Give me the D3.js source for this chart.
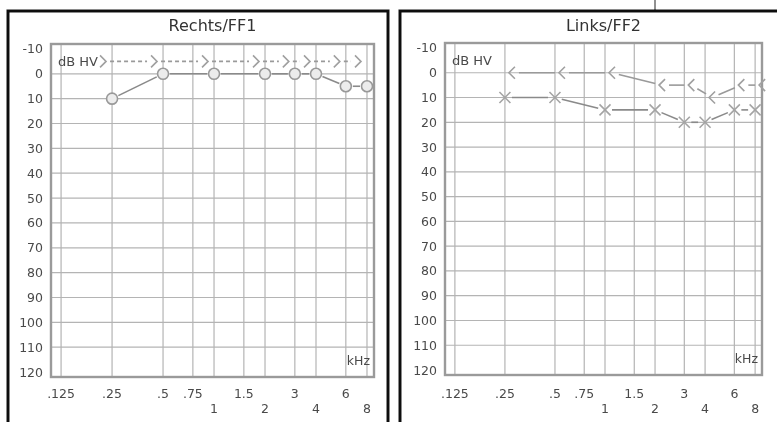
<!DOCTYPE html>
<html>
<head>
<meta charset="utf-8">
<script src="https://cdn.jsdelivr.net/npm/d3@7"></script>
<style>
  body { margin: 0; background: #fff; }
  svg { display: block; }
  text { font-family: "DejaVu Sans", sans-serif; fill: #4a4a4a; }
</style>
</head>
<body>
<div id="chart"></div>
<script>
// frequency axis (kHz)
var freqs = [0.125, 0.25, 0.5, 0.75, 1, 1.5, 2, 3, 4, 6, 8];
var freqLabels = [".125", ".25", ".5", ".75", "1", "1.5", "2", "3", "4", "6", "8"];
var freqLabelRow = [0, 0, 0, 0, 1, 0, 1, 0, 1, 0, 1];
// level axis (dB HV)
var dbTicks = [-10, 0, 10, 20, 30, 40, 50, 60, 70, 80, 90, 100, 110, 120];
var dbGrid = [0, 10, 20, 30, 40, 50, 60, 70, 80, 90, 100, 110];

// measured frequencies
var testFreqs = [0.25, 0.5, 1, 2, 3, 4, 6, 8];
// Rechts/FF1
var rechtsAir = [10, 0, 0, 0, 0, 0, 5, 5];
var rechtsBone = [-5, -5, -5, -5, -5, -5, -5, -5];
// Links/FF2
var linksAir = [10, 10, 15, 15, 20, 20, 15, 15];
var linksBone = [0, 0, 0, 5, 5, 10, 5, 5];

var width = 777, height = 422;

var svg = d3.select("#chart").append("svg")
    .attr("width", width)
    .attr("height", height);

svg.append("defs").append("filter")
    .attr("id", "soft")
  .append("feGaussianBlur")
    .attr("stdDeviation", 0.45);

var root = svg.append("g").attr("filter", "url(#soft)");

// little tick on top of the right frame
root.append("line")
    .attr("x1", 655).attr("x2", 655)
    .attr("y1", 0).attr("y2", 11)
    .attr("stroke", "#222").attr("stroke-width", 1);

var panels = [
  {title: "Rechts/FF1", frame: [8, 11, 388], plot: [51, 44, 374, 377],
   air: rechtsAir, bone: rechtsBone, airMark: "o", boneMark: ">", boneOffset: -9, boneDash: "4,3"},
  {title: "Links/FF2", frame: [400, 11, 790], plot: [445, 43, 762, 375],
   air: linksAir, bone: linksBone, airMark: "x", boneMark: "<", boneOffset: 7, boneDash: null}
];

// draw a connecting line with gaps round the markers
function gapLine(g, pts, gap, dash, color) {
  for (var i = 0; i < pts.length - 1; i++) {
    var a = pts[i], b = pts[i + 1];
    var dx = b[0] - a[0], dy = b[1] - a[1];
    var len = Math.sqrt(dx * dx + dy * dy);
    if (len < 2 * gap + 2) continue;
    var ux = dx / len, uy = dy / len;
    g.append("line")
        .attr("x1", a[0] + ux * gap).attr("y1", a[1] + uy * gap)
        .attr("x2", b[0] - ux * gap).attr("y2", b[1] - uy * gap)
        .attr("stroke", color)
        .attr("stroke-width", 1.6)
        .attr("stroke-dasharray", dash);
  }
}

panels.forEach(function(p) {
  var g = root.append("g");
  var x = d3.scaleLog().domain([0.109, 8.8]).range([p.plot[0], p.plot[2]]);
  var y = d3.scaleLinear().domain([-12, 122]).range([p.plot[1], p.plot[3]]);

  // outer frame
  g.append("rect")
      .attr("x", p.frame[0]).attr("y", p.frame[1])
      .attr("width", p.frame[2] - p.frame[0])
      .attr("height", height + 20)
      .attr("fill", "none")
      .attr("stroke", "#111")
      .attr("stroke-width", 3);

  // title
  g.append("text")
      .attr("x", (p.plot[0] + p.plot[2]) / 2)
      .attr("y", 31)
      .attr("text-anchor", "middle")
      .style("font-size", "16px")
      .style("fill", "#333")
      .text(p.title);

  // grid
  g.append("g").selectAll("line")
    .data(dbGrid)
    .enter().append("line")
      .attr("x1", p.plot[0]).attr("x2", p.plot[2])
      .attr("y1", function(d) { return y(d); })
      .attr("y2", function(d) { return y(d); })
      .attr("stroke", "#b4b4b4").attr("stroke-width", 1.2);

  g.append("g").selectAll("line")
    .data(freqs)
    .enter().append("line")
      .attr("x1", function(d) { return x(d); })
      .attr("x2", function(d) { return x(d); })
      .attr("y1", p.plot[1]).attr("y2", p.plot[3])
      .attr("stroke", "#b4b4b4").attr("stroke-width", 1.2);

  // plot border
  g.append("rect")
      .attr("x", p.plot[0]).attr("y", p.plot[1])
      .attr("width", p.plot[2] - p.plot[0])
      .attr("height", p.plot[3] - p.plot[1])
      .attr("fill", "none")
      .attr("stroke", "#9a9a9a")
      .attr("stroke-width", 2.4);

  // y labels
  g.append("g").selectAll("text")
    .data(dbTicks)
    .enter().append("text")
      .attr("x", p.plot[0] - 8)
      .attr("y", function(d) { return y(d); })
      .attr("dy", "0.36em")
      .attr("text-anchor", "end")
      .style("font-size", "12.5px")
      .text(function(d) { return d; });

  // x labels, two rows
  g.append("g").selectAll("text")
    .data(freqs)
    .enter().append("text")
      .attr("x", function(d) { return x(d); })
      .attr("y", function(d, i) { return freqLabelRow[i] ? 413 : 398; })
      .attr("text-anchor", "middle")
      .style("font-size", "12.5px")
      .text(function(d, i) { return freqLabels[i]; });

  g.append("text")
      .attr("x", p.plot[0] + 7)
      .attr("y", y(-5) + 5)
      .style("font-size", "13px")
      .text("dB HV");

  g.append("text")
      .attr("x", p.plot[2] - 4)
      .attr("y", p.plot[3] - 12)
      .attr("text-anchor", "end")
      .style("font-size", "12.5px")
      .text("kHz");

  // bone conduction
  var bonePts = testFreqs.map(function(f, i) { return [x(f) + p.boneOffset, y(p.bone[i])]; });
  gapLine(g, bonePts, 7, p.boneDash, "#9a9a9a");
  var dir = p.boneMark === ">" ? 1 : -1;
  g.append("g").selectAll("path")
    .data(bonePts)
    .enter().append("path")
      .attr("d", function(d) {
        return "M" + (d[0] - 3 * dir) + "," + (d[1] - 6) +
               "L" + (d[0] + 3 * dir) + "," + d[1] +
               "L" + (d[0] - 3 * dir) + "," + (d[1] + 6);
      })
      .attr("fill", "none")
      .attr("stroke", "#a0a0a0")
      .attr("stroke-width", 1.6);

  // air conduction
  var airPts = testFreqs.map(function(f, i) { return [x(f), y(p.air[i])]; });
  gapLine(g, airPts, 7, null, "#8a8a8a");
  if (p.airMark === "o") {
    g.append("g").selectAll("circle")
      .data(airPts)
      .enter().append("circle")
        .attr("cx", function(d) { return d[0]; })
        .attr("cy", function(d) { return d[1]; })
        .attr("r", 5.5)
        .attr("fill", "#ececec")
        .attr("stroke", "#999")
        .attr("stroke-width", 1.6);
  } else {
    g.append("g").selectAll("path")
      .data(airPts)
      .enter().append("path")
        .attr("d", function(d) {
          var s = 5.5;
          return "M" + (d[0] - s) + "," + (d[1] - s) + "L" + (d[0] + s) + "," + (d[1] + s) +
                 "M" + (d[0] - s) + "," + (d[1] + s) + "L" + (d[0] + s) + "," + (d[1] - s);
        })
        .attr("stroke", "#a4a4a4")
        .attr("stroke-width", 1.6);
  }
});
</script>
</body>
</html>
